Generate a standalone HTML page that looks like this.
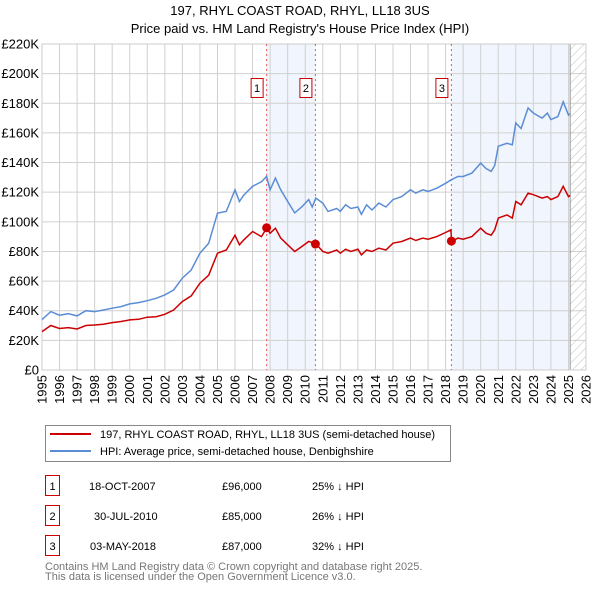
<!DOCTYPE html>
<html><head><meta charset="utf-8"><style>
body{margin:0;background:#fff;font-family:"Liberation Sans","DejaVu Sans",sans-serif;}
svg{display:block}
</style></head><body>
<svg id="c" width="600" height="590" xmlns="http://www.w3.org/2000/svg">
<defs><pattern id="hatch" width="6" height="6" patternUnits="userSpaceOnUse" patternTransform="rotate(45)"><line x1="0" y1="0" x2="0" y2="6" stroke="#bbb" stroke-width="1"/></pattern></defs>
<text x="300" y="15" text-anchor="middle" font-size="13">197, RHYL COAST ROAD, RHYL, LL18 3US</text>
<text x="300" y="33" text-anchor="middle" font-size="13">Price paid vs. HM Land Registry's House Price Index (HPI)</text>
<g id="plot"></g>
<g>
<rect x="45.5" y="425.5" width="405" height="36" fill="#fff" stroke="#888"/>
<line x1="50" y1="434" x2="91" y2="434" stroke="#cc0000" stroke-width="2"/>
<text x="100" y="438" font-size="11">197, RHYL COAST ROAD, RHYL, LL18 3US (semi-detached house)</text>
<line x1="50" y1="451" x2="91" y2="451" stroke="#5b8dd6" stroke-width="2"/>
<text x="100" y="455" font-size="11">HPI: Average price, semi-detached house, Denbighshire</text>
</g>
<g font-size="11">
<rect x="45.5" y="475.5" width="14" height="20" fill="#fff" stroke="#cc0000"/><text x="52.5" y="490" text-anchor="middle">1</text>
<text x="89" y="490">18-OCT-2007</text><text x="222" y="490">£96,000</text><text x="312" y="490">25% ↓ HPI</text>
<rect x="45.5" y="505.5" width="14" height="20" fill="#fff" stroke="#cc0000"/><text x="52.5" y="520" text-anchor="middle">2</text>
<text x="94" y="520">30-JUL-2010</text><text x="222" y="520">£85,000</text><text x="312" y="520">26% ↓ HPI</text>
<rect x="45.5" y="535.5" width="14" height="20" fill="#fff" stroke="#cc0000"/><text x="52.5" y="550" text-anchor="middle">3</text>
<text x="90" y="550">03-MAY-2018</text><text x="222" y="550">£87,000</text><text x="312" y="550">32% ↓ HPI</text>
</g>
<text x="45" y="570" font-size="11" fill="#777">Contains HM Land Registry data © Crown copyright and database right 2025.</text>
<text x="45" y="580" font-size="11" fill="#777">This data is licensed under the Open Government Licence v3.0.</text>
</svg>
<script>
const hpiYears=[1995,1995.5,1996,1996.5,1997,1997.5,1998,1998.5,1999,1999.5,2000,2000.5,2001,2001.5,2002,2002.5,2003,2003.5,2004,2004.5,2005,2005.5,2006,2006.25,2006.5,2007,2007.5,2007.8,2008,2008.3,2008.6,2009,2009.4,2009.8,2010.2,2010.4,2010.6,2011,2011.3,2011.8,2012,2012.3,2012.6,2013,2013.2,2013.5,2013.8,2014.2,2014.6,2015,2015.5,2016,2016.3,2016.7,2017,2017.5,2018,2018.33,2018.7,2019,2019.5,2020,2020.3,2020.6,2020.8,2021,2021.5,2021.8,2022,2022.3,2022.7,2023,2023.5,2023.8,2024,2024.4,2024.7,2025,2025.1];
const hpiValues=[34,39.4,37,38,36.5,40,39.4,40.5,41.7,42.8,44.6,45.5,46.8,48.4,50.7,54,62,67.5,78.8,85.6,105.9,107,121.6,113.7,118,124,127,130.6,121.6,129.5,121.6,113.7,106,110,115,110,116,112.6,107,109,107,111.5,109,110,105,111.5,108,112.6,110,115,117,121.6,119.4,121.6,120.5,122.7,126,128.4,130.6,130.6,132.9,139.6,136,134,138,151,153,152,166.7,163,176.8,173.4,170,173.4,169,171,181,172,173];
const ppYears=[1995,1995.5,1996,1996.5,1997,1997.5,1998,1998.5,1999,1999.5,2000,2000.5,2001,2001.5,2002,2002.5,2003,2003.5,2004,2004.5,2005,2005.5,2006,2006.25,2006.5,2007,2007.5,2007.8,2008,2008.3,2008.6,2009,2009.4,2009.8,2010.2,2010.58,2011,2011.3,2011.8,2012,2012.3,2012.6,2013,2013.2,2013.5,2013.8,2014.2,2014.6,2015,2015.5,2016,2016.3,2016.7,2017,2017.5,2018,2018.3,2018.34,2018.7,2019,2019.5,2020,2020.3,2020.6,2020.8,2021,2021.5,2021.8,2022,2022.3,2022.7,2023,2023.5,2023.8,2024,2024.4,2024.7,2025,2025.1];
const ppValues=[25.9,30,28,28.6,27.7,30,30.4,30.9,32,32.7,33.8,34.2,35.6,36,37.6,40.5,46.2,50,58.6,64,78.8,81,91,84.5,87.8,93.5,90,95.7,92.3,95.7,89,84.5,80,83.3,86.7,85.6,80,78.8,81,78.8,81.5,80,81.5,77.7,81,80,82.2,81,85.6,86.7,89,87.4,89,88.3,90,92.8,94.6,86.7,89,88.3,90,95.7,92.3,91,94.6,102.5,104.7,102.5,113.7,111.5,119.4,118.3,116,117,115,117,124,117,117.8];
const saleYears=[2007.8,2010.58,2018.33];
const saleValues=[96,85,87];
const saleLabels=["1","2","3"];
const yTicks=[0,20,40,60,80,100,120,140,160,180,200,220];
const xTicks=[1995,1996,1997,1998,1999,2000,2001,2002,2003,2004,2005,2006,2007,2008,2009,2010,2011,2012,2013,2014,2015,2016,2017,2018,2019,2020,2021,2022,2023,2024,2025,2026];
const L=42,R=586,T=44,B=370,X0=1995,X1=2026,YMAX=220,FUT=2025.1;
const NS="http://www.w3.org/2000/svg";
const xs=v=>L+(v-X0)/(X1-X0)*(R-L);
const ys=v=>B-v/YMAX*(B-T);
const g=document.getElementById('plot');
function mk(t,a){const e=document.createElementNS(NS,t);for(const k in a)e.setAttribute(k,a[k]);g.appendChild(e);return e;}
let e;
e=mk('rect',{x:L,y:T,width:R-L,height:B-T,fill:'#fff'});


e=mk('rect',{x:xs(saleYears[0]),y:T,width:xs(saleYears[1])-xs(saleYears[0]),height:B-T,fill:'#eef3fc',opacity:0.8});


e=mk('rect',{x:xs(saleYears[2]),y:T,width:xs(FUT)-xs(saleYears[2]),height:B-T,fill:'#eef3fc',opacity:0.8});


e=mk('rect',{x:xs(FUT),y:T,width:R-xs(FUT),height:B-T,fill:'url(#hatch)'});


yTicks.forEach(v=>{
 e=mk('line',{x1:L,x2:R,y1:ys(v),y2:ys(v),stroke:'#d0d0d0','stroke-width':1});
 
 
 e=mk('text',{x:L-3,y:ys(v)+4.5,'text-anchor':'end','font-size':13});
 e.textContent=v===0?'£0':'£'+v+'K';
 
 
});
xTicks.forEach(v=>{
 e=mk('line',{x1:xs(v),x2:xs(v),y1:T,y2:B,stroke:'#d0d0d0','stroke-width':1});
 
 
 const tx=xs(v)+4.5, ty=B+5;
 e=mk('text',{x:tx,y:ty,'text-anchor':'end','font-size':13,transform:'rotate(-90 '+tx+' '+ty+')'});
 e.textContent=v;
 
 
});
e=mk('line',{x1:xs(FUT),x2:xs(FUT),y1:T,y2:B,stroke:'#999','stroke-width':1});


e=mk('rect',{x:L,y:T,width:R-L,height:B-T,fill:'none',stroke:'#ccc'});


saleYears.forEach((yr,i)=>{
 e=mk('line',{x1:xs(yr),x2:xs(yr),y1:T,y2:B,stroke:'#e55','stroke-width':1,'stroke-dasharray':'2,3'});
 
 
 e=mk('rect',{x:xs(yr)-15.5,y:78.5,width:12,height:19,fill:'#fff',stroke:'#cc0000'});
 
 
 e=mk('text',{x:xs(yr)-9.5,y:92,'text-anchor':'middle','font-size':11});
 e.textContent=saleLabels[i];
 
 
});
function path(xa,va){return xa.map((x,i)=>(i?'L':'M')+xs(x).toFixed(1)+','+ys(va[i]).toFixed(1)).join('');}
e=mk('path',{d:path(hpiYears,hpiValues),fill:'none',stroke:'#5b8dd6','stroke-width':1.5});


e=mk('path',{d:path(ppYears,ppValues),fill:'none',stroke:'#cc0000','stroke-width':1.5});


saleYears.forEach((yr,i)=>{
 e=mk('circle',{cx:xs(yr),cy:ys(saleValues[i]),r:4.5,fill:'#cc0000'});
 
 
});
</script>
</body></html>
